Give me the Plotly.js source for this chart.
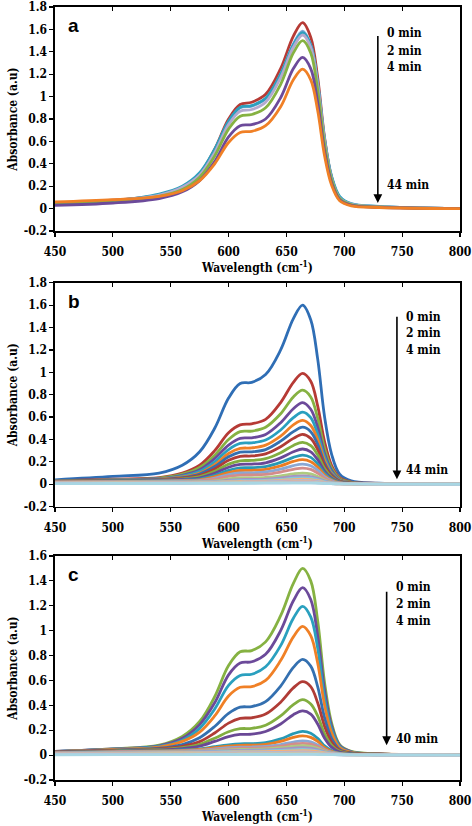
<!DOCTYPE html>
<html>
<head>
<meta charset="utf-8">
<script src="https://cdn.plot.ly/plotly-3.0.1.min.js"></script>
<style>
html,body{margin:0;padding:0;background:#fff;}
#chart{width:472px;height:826px;}
</style>
</head>
<body>
<div id="chart"></div>
<script>
// ---- DATA ----
const wavelength = [450,500,540,560,575,588,600,610,620,632,645,656,664,671,677,683,689,696,706,730,800];

const a_s1 = [0.05,0.075,0.12,0.19,0.31,0.53,0.80,0.93,0.95,1.02,1.25,1.54,1.66,1.53,1.17,0.63,0.28,0.095,0.035,0.015,0];
const a_s2 = [0.04,0.07,0.12,0.19,0.31,0.52,0.775,0.90,0.915,0.98,1.20,1.47,1.585,1.46,1.12,0.61,0.28,0.10,0.04,0.018,0];
const a_s3 = [0.04,0.07,0.13,0.20,0.32,0.53,0.78,0.905,0.92,0.985,1.20,1.46,1.57,1.46,1.12,0.62,0.29,0.11,0.045,0.02,0];
const a_s4 = [0.045,0.07,0.12,0.19,0.30,0.50,0.75,0.87,0.885,0.95,1.17,1.44,1.55,1.44,1.10,0.60,0.27,0.095,0.04,0.017,0];
const a_s5 = [0.04,0.065,0.11,0.17,0.28,0.47,0.71,0.825,0.84,0.90,1.11,1.39,1.50,1.39,1.06,0.57,0.26,0.09,0.035,0.015,0];
const a_s6 = [0.03,0.05,0.09,0.15,0.25,0.42,0.64,0.74,0.75,0.80,0.99,1.25,1.35,1.25,0.95,0.51,0.23,0.08,0.03,0.012,0];
const a_s7 = [0.06,0.08,0.11,0.16,0.25,0.40,0.59,0.68,0.69,0.74,0.91,1.15,1.245,1.15,0.875,0.47,0.21,0.07,0.025,0.01,0];

const b_s1  = [0.04,0.07,0.10,0.17,0.29,0.50,0.77,0.90,0.91,0.98,1.20,1.48,1.60,1.47,1.12,0.60,0.27,0.09,0.03,0.01,0];
const b_s2  = [0.03,0.045,0.06,0.10,0.17,0.30,0.46,0.53,0.54,0.58,0.73,0.91,0.99,0.92,0.70,0.38,0.17,0.06,0.02,0.008,0];
const b_s3  = [0.03,0.04,0.055,0.09,0.15,0.26,0.40,0.47,0.475,0.51,0.63,0.78,0.84,0.78,0.59,0.32,0.145,0.05,0.018,0.007,0];
const b_s4  = [0.03,0.04,0.05,0.08,0.13,0.23,0.35,0.41,0.415,0.445,0.55,0.675,0.73,0.67,0.51,0.275,0.125,0.042,0.015,0.006,0];
const b_s5  = [0.03,0.04,0.048,0.072,0.115,0.20,0.31,0.365,0.37,0.395,0.485,0.595,0.645,0.595,0.45,0.245,0.11,0.037,0.013,0.005,0];
const b_s6  = [0.028,0.038,0.045,0.065,0.10,0.175,0.275,0.32,0.325,0.35,0.43,0.53,0.57,0.525,0.40,0.215,0.097,0.033,0.012,0.005,0];
const b_s7  = [0.027,0.036,0.043,0.06,0.092,0.158,0.245,0.287,0.29,0.31,0.385,0.47,0.51,0.47,0.357,0.19,0.087,0.03,0.011,0.004,0];
const b_s8  = [0.026,0.034,0.04,0.055,0.08,0.137,0.214,0.25,0.253,0.272,0.335,0.41,0.445,0.41,0.31,0.167,0.076,0.026,0.01,0.004,0];
const b_s9  = [0.025,0.032,0.037,0.048,0.068,0.115,0.18,0.21,0.213,0.229,0.282,0.347,0.375,0.345,0.263,0.14,0.064,0.022,0.009,0.004,0];
const b_s10 = [0.024,0.03,0.034,0.043,0.057,0.098,0.152,0.177,0.18,0.192,0.236,0.29,0.315,0.29,0.22,0.118,0.054,0.019,0.008,0.003,0];
const b_s11 = [0.022,0.028,0.031,0.037,0.047,0.08,0.125,0.146,0.148,0.158,0.195,0.24,0.26,0.24,0.182,0.098,0.045,0.016,0.007,0.003,0];
const b_s12 = [0.021,0.026,0.029,0.033,0.04,0.068,0.104,0.123,0.125,0.134,0.165,0.204,0.22,0.202,0.154,0.083,0.038,0.014,0.006,0.003,0];
const b_s13 = [0.02,0.024,0.027,0.03,0.034,0.056,0.086,0.101,0.102,0.11,0.135,0.167,0.18,0.166,0.126,0.068,0.031,0.012,0.005,0.003,0];
const b_s14 = [0.018,0.022,0.025,0.027,0.029,0.045,0.07,0.082,0.083,0.088,0.109,0.134,0.145,0.133,0.10,0.055,0.025,0.01,0.005,0.002,0];
const b_s15 = [0.016,0.02,0.022,0.024,0.025,0.031,0.048,0.056,0.057,0.061,0.075,0.093,0.10,0.092,0.07,0.038,0.018,0.008,0.004,0.002,0];
const b_s16 = [0.015,0.018,0.02,0.021,0.022,0.025,0.036,0.042,0.043,0.046,0.056,0.07,0.075,0.069,0.053,0.03,0.014,0.007,0.004,0.002,0];
const b_s17 = [0.014,0.016,0.018,0.019,0.02,0.021,0.028,0.032,0.033,0.035,0.043,0.054,0.058,0.054,0.041,0.023,0.012,0.006,0.003,0.002,0];
const b_s18 = [0.012,0.015,0.016,0.017,0.018,0.019,0.023,0.025,0.026,0.028,0.034,0.042,0.045,0.042,0.032,0.018,0.01,0.005,0.003,0.002,0];
const b_s19 = [0.01,0.013,0.014,0.015,0.016,0.017,0.018,0.02,0.021,0.022,0.027,0.033,0.035,0.033,0.025,0.015,0.009,0.005,0.003,0.002,0];
const b_s20 = [0.009,0.011,0.012,0.013,0.014,0.015,0.016,0.017,0.018,0.019,0.021,0.025,0.027,0.025,0.02,0.012,0.008,0.004,0.003,0.002,0];
const b_s21 = [0.008,0.01,0.011,0.011,0.012,0.012,0.013,0.014,0.014,0.015,0.016,0.019,0.02,0.019,0.015,0.01,0.007,0.004,0.003,0.002,0];
const b_s22 = [0.007,0.008,0.009,0.009,0.01,0.01,0.011,0.011,0.012,0.012,0.013,0.014,0.015,0.014,0.012,0.009,0.006,0.004,0.003,0.002,0];
const b_s23 = [0.006,0.007,0.007,0.008,0.008,0.008,0.009,0.009,0.009,0.01,0.01,0.01,0.01,0.01,0.009,0.007,0.005,0.004,0.003,0.002,0];

const c_s1  = [0.03,0.05,0.08,0.15,0.27,0.47,0.72,0.83,0.84,0.91,1.12,1.38,1.50,1.40,1.08,0.58,0.26,0.085,0.03,0.01,0];
const c_s2  = [0.03,0.05,0.075,0.135,0.245,0.42,0.645,0.74,0.75,0.81,1.00,1.24,1.345,1.25,0.96,0.52,0.235,0.077,0.027,0.01,0];
const c_s3  = [0.028,0.048,0.07,0.12,0.215,0.37,0.56,0.64,0.65,0.71,0.88,1.10,1.195,1.11,0.86,0.46,0.21,0.07,0.025,0.01,0];
const c_s4  = [0.027,0.045,0.065,0.11,0.185,0.315,0.475,0.545,0.55,0.60,0.76,0.95,1.035,0.96,0.74,0.40,0.18,0.06,0.022,0.009,0];
const c_s5  = [0.025,0.04,0.055,0.085,0.14,0.23,0.335,0.385,0.39,0.43,0.555,0.705,0.77,0.715,0.55,0.30,0.135,0.046,0.018,0.008,0];
const c_s6  = [0.024,0.037,0.05,0.07,0.108,0.178,0.257,0.295,0.30,0.33,0.425,0.54,0.59,0.55,0.42,0.23,0.104,0.037,0.015,0.007,0];
const c_s7  = [0.022,0.034,0.045,0.06,0.087,0.136,0.188,0.212,0.215,0.24,0.315,0.405,0.445,0.41,0.315,0.17,0.08,0.03,0.012,0.006,0];
const c_s8  = [0.021,0.032,0.041,0.052,0.072,0.11,0.148,0.166,0.168,0.19,0.25,0.325,0.355,0.33,0.25,0.136,0.064,0.024,0.01,0.005,0];
const c_s9  = [0.02,0.03,0.036,0.042,0.05,0.068,0.083,0.091,0.092,0.10,0.13,0.172,0.19,0.176,0.135,0.074,0.036,0.015,0.007,0.004,0];
const c_s10 = [0.019,0.028,0.033,0.038,0.045,0.06,0.072,0.079,0.08,0.087,0.11,0.142,0.155,0.143,0.11,0.06,0.03,0.013,0.006,0.003,0];
const c_s11 = [0.018,0.026,0.03,0.034,0.039,0.049,0.059,0.064,0.065,0.07,0.085,0.105,0.115,0.106,0.082,0.046,0.024,0.011,0.005,0.003,0];
const c_s12 = [0.017,0.024,0.028,0.031,0.035,0.043,0.05,0.055,0.056,0.06,0.072,0.088,0.095,0.088,0.068,0.039,0.021,0.01,0.005,0.003,0];
const c_s13 = [0.016,0.022,0.026,0.028,0.031,0.036,0.042,0.045,0.046,0.05,0.059,0.07,0.075,0.07,0.055,0.032,0.018,0.009,0.005,0.003,0];
const c_s14 = [0.015,0.02,0.023,0.025,0.027,0.031,0.036,0.038,0.039,0.042,0.048,0.056,0.06,0.056,0.044,0.027,0.015,0.008,0.004,0.003,0];
const c_s15 = [0.013,0.018,0.02,0.022,0.023,0.026,0.029,0.031,0.032,0.034,0.038,0.042,0.045,0.042,0.034,0.021,0.013,0.007,0.004,0.002,0];
const c_s16 = [0.012,0.016,0.018,0.019,0.02,0.022,0.024,0.026,0.026,0.028,0.03,0.033,0.035,0.033,0.027,0.018,0.011,0.006,0.004,0.002,0];
const c_s17 = [0.01,0.013,0.015,0.016,0.017,0.018,0.019,0.02,0.02,0.021,0.022,0.024,0.025,0.024,0.02,0.014,0.009,0.005,0.003,0.002,0];
const c_s18 = [0.008,0.011,0.012,0.013,0.013,0.014,0.014,0.015,0.015,0.016,0.016,0.017,0.018,0.017,0.015,0.011,0.007,0.005,0.003,0.002,0];
const c_s19 = [0.006,0.008,0.009,0.009,0.01,0.01,0.01,0.011,0.011,0.011,0.011,0.012,0.012,0.012,0.011,0.008,0.006,0.004,0.003,0.002,0];
const c_s20 = [0.004,0.005,0.006,0.006,0.006,0.007,0.007,0.007,0.007,0.007,0.008,0.008,0.008,0.008,0.007,0.006,0.005,0.003,0.002,0.001,0];
const c_s21 = [0.003,0.004,0.004,0.004,0.005,0.005,0.005,0.005,0.005,0.005,0.005,0.006,0.006,0.006,0.005,0.004,0.004,0.003,0.002,0.001,0];

const xTickVals = [450,500,550,600,650,700,750,800];
const yTickValsAB = [-0.2,0,0.2,0.4,0.6,0.8,1,1.2,1.4,1.6,1.8];
const yTickTextAB = ['-0.2','0','0.2','0.4','0.6','0.8','1','1.2','1.4','1.6','1.8'];
const yTickValsC = [-0.2,0,0.2,0.4,0.6,0.8,1,1.2,1.4,1.6];
const yTickTextC = ['-0.2','0','0.2','0.4','0.6','0.8','1','1.2','1.4','1.6'];
const timeLabels = ['0 min','2 min','4 min'];
const endLabelAB = '44 min';
const endLabelC = '40 min';

// ---- STYLE ----
const seriesA = [a_s1,a_s2,a_s3,a_s4,a_s5,a_s6,a_s7];
const colorsA = ['#B63A35','#7FA6D6','#2CA0BE','#B3A9CF','#86B242','#6C4A9A','#F08026'];
const seriesB = [b_s1,b_s2,b_s3,b_s4,b_s5,b_s6,b_s7,b_s8,b_s9,b_s10,b_s11,b_s12,b_s13,b_s14,b_s15,b_s16,b_s17,b_s18,b_s19,b_s20,b_s21,b_s22,b_s23];
const seriesC = [c_s1,c_s2,c_s3,c_s4,c_s5,c_s6,c_s7,c_s8,c_s9,c_s10,c_s11,c_s12,c_s13,c_s14,c_s15,c_s16,c_s17,c_s18,c_s19,c_s20,c_s21];
const palette = ['#2F6EB5','#B63A35','#86B242','#6C4A9A','#2AA0BF','#F08026',
                 '#3470B0','#B03C36','#82AE40','#6A4896','#2899B5','#EC7C22',
                 '#8AA8D4','#D48C8A','#AFCA80','#A593C4','#86C8DA','#F8B07A',
                 '#A9BEDD','#DDA9A8','#C6D9A4','#BDB1D4','#A8D6E3','#F9C9A4'];

const traces = [];
function addSeries(list, colors, xa, ya, offset){
  list.forEach((ys,i)=>{
    traces.push({x:wavelength, y:ys, xaxis:xa, yaxis:ya, type:'scatter', mode:'lines',
      line:{color:colors[(i+offset)%colors.length], width:2.8, shape:'spline', smoothing:1},
      showlegend:false, hoverinfo:'skip'});
  });
}
addSeries(seriesA, colorsA, 'x', 'y', 0);
addSeries(seriesB, palette, 'x2', 'y2', 0);
addSeries(seriesC, palette, 'x3', 'y3', 2);
[['x4','y'],['x5','y2'],['x6','y3']].forEach(p=>traces.push({x:[],y:[],xaxis:p[0],yaxis:p[1],type:'scatter',mode:'lines',showlegend:false,hoverinfo:'skip'}));

const serif = 'DejaVu Serif Condensed, DejaVu Serif';
const tickFont = {family:serif, size:12, color:'#000', weight:'bold'};
const titleFont = {family:serif, size:12, color:'#000', weight:'bold'};

function xAxis(anchor){
  return {anchor:anchor, range:[450,800], tickvals:xTickVals, ticks:'outside', ticklen:4, tickwidth:1.2,
    tickcolor:'#000', showline:true, linecolor:'#000', linewidth:1.6, mirror:true, showgrid:false, zeroline:false,
    tickfont:tickFont, ticklabelstandoff:5, ticklabeloverflow:'allow',
    title:{text:'Wavelength (cm<sup>-1</sup>)', font:titleFont, standoff:3}};
}
function xTop(over, anchor){
  return {overlaying:over, anchor:anchor, side:'top', range:[450,800], tickvals:xTickVals, ticks:'inside',
    ticklen:4, tickwidth:1.2, tickcolor:'#000', showticklabels:false, showline:false, showgrid:false, zeroline:false};
}
function yAxis(anchor, dom, rng, tv, tt){
  return {anchor:anchor, domain:dom, range:rng, tickvals:tv, ticktext:tt, ticks:'outside', ticklen:4, tickwidth:1.2,
    tickcolor:'#000', showline:true, linecolor:'#000', linewidth:1.6, mirror:true, showgrid:false, zeroline:false,
    tickfont:tickFont, ticklabeloverflow:'allow', title:{text:'Absorbance (a.u)', font:titleFont, standoff:3}};
}

function panelAnnotations(xa, ya, letter, arrowX, arrowTop, arrowTip, textX, textYs, endY, endText){
  const ann = [];
  ann.push({xref:xa+' domain', yref:ya+' domain', x:0.028, y:0.918, xanchor:'left', yanchor:'middle',
    text:'<b>'+letter+'</b>', showarrow:false, font:{family:'Liberation Sans', size:19, color:'#000'}});
  ann.push({xref:xa, yref:ya, axref:xa, ayref:ya, x:arrowX, y:arrowTip, ax:arrowX, ay:arrowTop, text:' ',
    showarrow:true, arrowhead:2, arrowsize:1.1, arrowwidth:1.6, arrowcolor:'#000', standoff:0});
  timeLabels.forEach((t,i)=>ann.push({xref:xa, yref:ya, x:textX, y:textYs[i], xanchor:'left', yanchor:'middle',
    text:t, showarrow:false, font:titleFont}));
  ann.push({xref:xa, yref:ya, x:textX, y:endY, xanchor:'left', yanchor:'middle', text:endText, showarrow:false, font:titleFont});
  return ann;
}

const annotations = [].concat(
  panelAnnotations('x','y','a',729,1.63,0.05,735,[1.568,1.41,1.262],0.21,endLabelAB),
  panelAnnotations('x2','y2','b',745.5,1.586,0.045,751.5,[1.497,1.348,1.199],0.128,endLabelAB),
  panelAnnotations('x3','y3','c',736.6,1.393,0.08,743,[1.348,1.214,1.077],0.126,endLabelC)
);

const layout = {
  width:472, height:826, margin:{l:55, r:12, t:7, b:46},
  paper_bgcolor:'#fff', plot_bgcolor:'#fff', showlegend:false,
  xaxis:xAxis('y'), xaxis2:xAxis('y2'), xaxis3:xAxis('y3'),
  xaxis4:xTop('x','y'), xaxis5:xTop('x2','y2'), xaxis6:xTop('x3','y3'),
  yaxis:yAxis('x',[0.7102,1],[-0.2,1.8],yTickValsAB,yTickTextAB),
  yaxis2:yAxis('x2',[0.3536,0.6433],[-0.2,1.8],yTickValsAB,yTickTextAB),
  yaxis3:yAxis('x3',[0,0.2898],[-0.2,1.6],yTickValsC,yTickTextC),
  annotations:annotations
};

Plotly.newPlot('chart', traces, layout, {staticPlot:true, displayModeBar:false});
</script>
</body>
</html>
